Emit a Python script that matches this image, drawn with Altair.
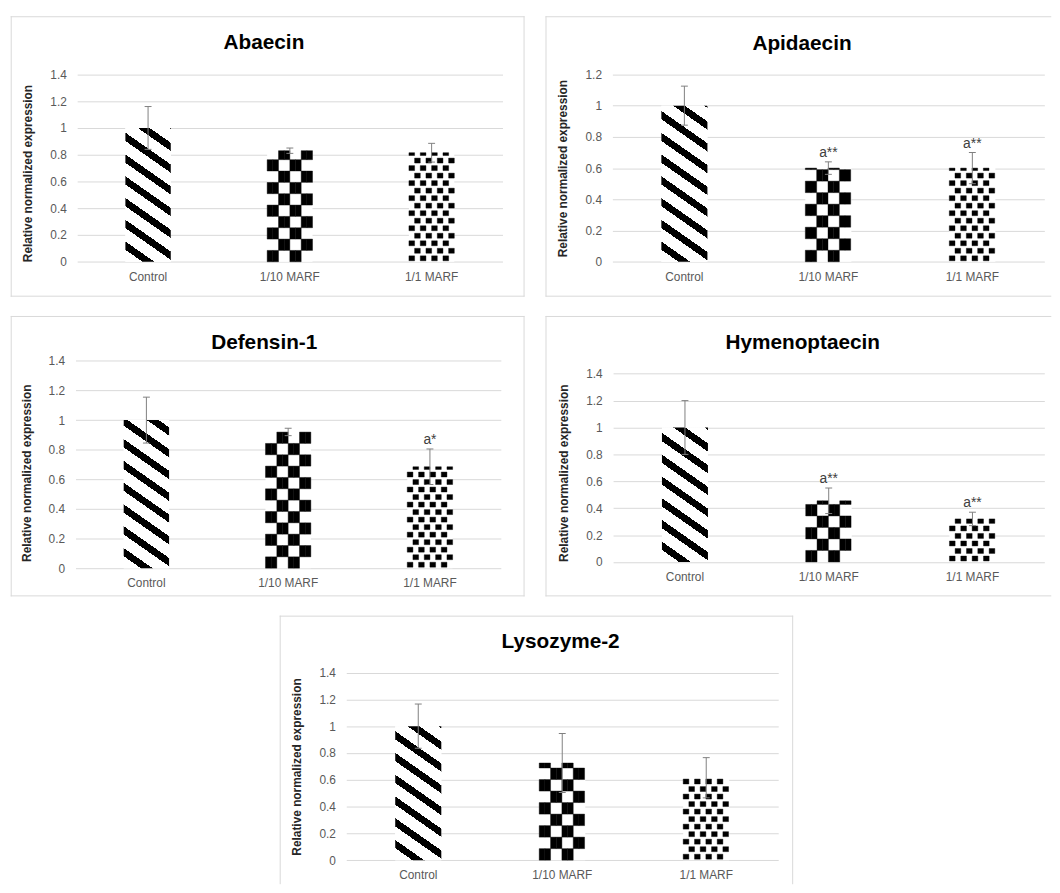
import altair as alt
import pandas as pd

# ---------------- data ----------------
categories = ["Control", "1/10 MARF", "1/1 MARF"]
genes = ["Abaecin", "Apidaecin", "Defensin-1", "Hymenoptaecin", "Lysozyme-2"]
y_max = [1.4, 1.2, 1.4, 1.4, 1.4]
ticks_14 = [0, 0.2, 0.4, 0.6, 0.8, 1, 1.2, 1.4]
ticks_12 = [0, 0.2, 0.4, 0.6, 0.8, 1, 1.2]

abaecin_mean = [1.0, 0.83, 0.815]
abaecin_err = [0.16, 0.02, 0.07]
abaecin_sig = ["", "", ""]

apidaecin_mean = [1.0, 0.6, 0.6]
apidaecin_err = [0.125, 0.04, 0.10]
apidaecin_sig = ["", "a**", "a**"]

defensin_mean = [1.0, 0.92, 0.685]
defensin_err = [0.155, 0.025, 0.12]
defensin_sig = ["", "", "a*"]

hymenoptaecin_mean = [1.0, 0.455, 0.32]
hymenoptaecin_err = [0.20, 0.095, 0.05]
hymenoptaecin_sig = ["", "a**", "a**"]

lysozyme_mean = [1.0, 0.725, 0.615]
lysozyme_err = [0.165, 0.22, 0.15]
lysozyme_sig = ["", "", ""]

y_title = "Relative normalized expression"

# ---------------- style / layout ----------------
FONT = "Liberation Sans"
GRID = "#d9d9d9"
FRAME = "#d9d9d9"
LABEL = "#595959"
ERR = "#7f7f7f"
PAD_IN = 0.68

geom = {
    "Abaecin": dict(W=519.5, H=283.5, x0=67.2, x1=497.2, yb=248.2, yt=58.8,
                    tx=256, ty=27, tya=158.5, sides="tlrb", fl=0),
    "Apidaecin": dict(W=511.3, H=283.5, x0=67.6, x1=504.3, yb=248.2, yt=58.8,
                      tx=259.3, ty=27.8, tya=153.5, sides="tlb", fl=0),
    "Defensin-1": dict(W=519.5, H=283.5, x0=65.5, x1=495.5, yb=255.0, yt=45.4,
                       tx=256.3, ty=27.3, tya=158.5, sides="tlrb", fl=0),
    "Hymenoptaecin": dict(W=511.3, H=283.5, x0=68.3, x1=504.3, yb=248.7, yt=58.4,
                          tx=260, ty=27.3, tya=158.5, sides="tlb", fl=0),
    "Lysozyme-2": dict(W=530.1, H=271.5, x0=78.3, x1=515.0, yb=247.2, yt=57.5,
                       tx=295, ty=26.8, tya=152.5, sides="tlr", fl=11),
}

one = pd.DataFrame({"k": [0]})


def stripe_gradient(W, H, s=0.7, period=22.0, frac=0.38, phase=0.55):
    q = s * W / H
    c = (1 + q) / (1 + q * q)
    N = (H + s * W) / period
    stops = [alt.GradientStop(offset=0, color="white")]
    for k in range(-1, int(N) + 2):
        a = max((k + phase) / N, 0.0)
        b = min((k + phase + frac) / N, 1.0)
        if b <= a:
            continue
        stops += [
            alt.GradientStop(offset=a, color="white"),
            alt.GradientStop(offset=a, color="black"),
            alt.GradientStop(offset=b, color="black"),
            alt.GradientStop(offset=b, color="white"),
        ]
    stops.append(alt.GradientStop(offset=1, color="white"))
    return alt.LinearGradient(gradient="linear", stops=stops,
                              x1=0, y1=1, x2=c * q, y2=1 - c)


def pattern_cells(means, ppu, bw):
    rows = []
    min_h = 1.0 / ppu
    # checkerboard for 1/10 MARF
    v = means[1]
    h = (bw / 4) / ppu
    r = 0
    while r * h < v - min_h:
        y0 = r * h
        y1 = min(y0 + h, v)
        for c in range(8):
            if (r + c // 2) % 2 == 0:
                rows.append(dict(category=categories[1], sub=c, y0=y0, y1=y1))
        r += 1
    # staggered confetti dots for 1/1 MARF
    v = means[2]
    pitch = 7.6 / ppu
    dh = 5.0 / ppu
    r = 0
    while r * pitch + 1.0 / ppu < v - min_h:
        y0 = r * pitch + 1.0 / ppu
        y1 = min(y0 + dh, v)
        cols = [0, 2, 4, 6] if r % 2 == 0 else [1, 3, 5, 7]
        for c in cols:
            rows.append(dict(category=categories[2], sub=c, y0=y0, y1=y1))
        r += 1
    return pd.DataFrame(rows)


def frame_layers(g):
    W, H, fl = g["W"], g["H"], g["fl"]
    out = []
    s = g["sides"]
    if "t" in s:
        out.append(alt.Chart(one).mark_rule(color=FRAME, strokeWidth=1).encode(
            x=alt.value(fl), x2=alt.value(W), y=alt.value(0.5)))
    if "l" in s:
        out.append(alt.Chart(one).mark_rule(color=FRAME, strokeWidth=1).encode(
            x=alt.value(fl + 0.5), y=alt.value(0), y2=alt.value(H)))
    if "r" in s:
        out.append(alt.Chart(one).mark_rule(color=FRAME, strokeWidth=1).encode(
            x=alt.value(W - 0.5), y=alt.value(0), y2=alt.value(H)))
    if "b" in s:
        out.append(alt.Chart(one).mark_rule(color=FRAME, strokeWidth=1).encode(
            x=alt.value(fl), x2=alt.value(W), y=alt.value(H - 0.5)))
    return out


def panel(gene, means, errs, sigs, ymax, ticks):
    g = geom[gene]
    W, H = g["W"], g["H"]
    x0, x1, yb, yt = g["x0"], g["x1"], g["yb"], g["yt"]
    ppu = (yb - yt) / ymax
    bw = (x1 - x0) / 3 * (1 - PAD_IN)

    df = pd.DataFrame({
        "category": categories,
        "mean": means,
        "lo": [m - e for m, e in zip(means, errs)],
        "hi": [m + e for m, e in zip(means, errs)],
        "sig": sigs,
    })
    cells = pattern_cells(means, ppu, bw)

    xscale = alt.Scale(domain=categories, range=[x0, x1],
                       paddingInner=PAD_IN, paddingOuter=PAD_IN / 2)
    yscale = alt.Scale(domain=[0, ymax], range=[yb, yt], nice=False, zero=True)
    xaxis = alt.Axis(offset=-(H - yb), domain=False, ticks=False, grid=False,
                     labelAngle=0, labelPadding=10, labelFontSize=12,
                     labelFont=FONT, labelColor=LABEL)
    yaxis = alt.Axis(offset=-x0, values=ticks, format="~g", domain=False,
                     ticks=False, grid=True, gridColor=GRID, gridWidth=1,
                     labelPadding=11, labelFontSize=12, labelFont=FONT,
                     labelColor=LABEL, titleFont=FONT, titleFontSize=12,
                     titleFontWeight="bold", titleColor="#262626",
                     titleAngle=270, titleBaseline="middle", titleAlign="center",
                     titleX=-50, titleY=g["tya"])

    def X():
        return alt.X("category:N", scale=xscale, axis=xaxis, sort=categories, title=None)

    def Y(f):
        return alt.Y(f"{f}:Q", scale=yscale, axis=yaxis, title=y_title)

    base = alt.Chart(df)
    white = base.mark_bar(fill="white").encode(x=X(), y=Y("mean"))
    stripes = base.transform_filter(alt.datum.category == categories[0]).mark_bar(
        fill=stripe_gradient(bw, 1.0 * ppu)).encode(x=X(), y=Y("mean"))
    cell_layer = alt.Chart(cells).mark_bar(
        color="black", stroke="black", strokeWidth=0.4).encode(
        x=X(),
        xOffset=alt.XOffset("sub:O", scale=alt.Scale(domain=list(range(8)),
                                                    paddingInner=0, paddingOuter=0)),
        y=Y("y0"), y2="y1")
    err_rule = base.mark_rule(color=ERR, strokeWidth=1).encode(x=X(), y=Y("lo"), y2="hi")
    cap_hi = base.mark_tick(color=ERR, size=7, thickness=1, opacity=1).encode(x=X(), y=Y("hi"))
    cap_lo = base.mark_tick(color=ERR, size=7, thickness=1, opacity=1).encode(x=X(), y=Y("lo"))
    sig = base.mark_text(fontSize=14, font=FONT, color="#404040", baseline="alphabetic",
                         dy=-5).encode(x=X(), y=Y("hi"), text="sig:N")
    title = alt.Chart(pd.DataFrame({"gene": [gene]})).mark_text(
        fontSize=21, fontWeight="bold", font=FONT, color="black",
        align="center", baseline="middle").encode(
        x=alt.value(g["tx"]), y=alt.value(g["ty"]), text="gene:N")

    layers = frame_layers(g) + [white, stripes, cell_layer, err_rule, cap_hi, cap_lo, sig, title]
    return alt.layer(*layers).properties(width=W, height=H)


p1 = panel("Abaecin", abaecin_mean, abaecin_err, abaecin_sig, y_max[0], ticks_14)
p2 = panel("Apidaecin", apidaecin_mean, apidaecin_err, apidaecin_sig, y_max[1], ticks_12)
p3 = panel("Defensin-1", defensin_mean, defensin_err, defensin_sig, y_max[2], ticks_14)
p4 = panel("Hymenoptaecin", hymenoptaecin_mean, hymenoptaecin_err, hymenoptaecin_sig, y_max[3], ticks_14)
p5 = panel("Lysozyme-2", lysozyme_mean, lysozyme_err, lysozyme_sig, y_max[4], ticks_14)

row1 = alt.hconcat(p1, p2, spacing=19.7)
row2 = alt.hconcat(p3, p4, spacing=19.7)

chart = alt.vconcat(row1, row2, p5, spacing=18, center=True).properties(
    padding={"left": 1.5, "top": 2.5, "right": 0, "bottom": 0}
).configure_view(stroke=None)

chart.save("out.html", embed_options={"renderer": "svg", "actions": False})
